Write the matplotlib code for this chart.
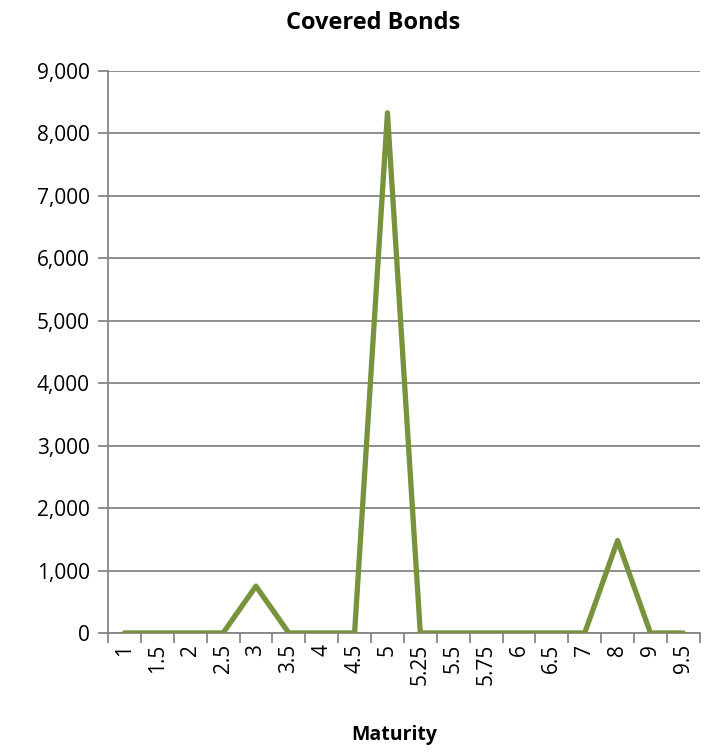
import matplotlib
matplotlib.use("Agg")
import matplotlib.pyplot as plt
import numpy as np
from matplotlib.ticker import FuncFormatter, FixedLocator

plt.rcParams['font.family'] = ['Open Sans', 'DejaVu Sans']

maturity = ['1', '1.5', '2', '2.5', '3', '3.5', '4', '4.5', '5', '5.25',
            '5.5', '5.75', '6', '6.5', '7', '8', '9', '9.5']
amount = [0, 0, 0, 0, 750, 0, 0, 0, 8330, 0, 0, 0, 0, 0, 0, 1480, 0, 0]

grid_col = '#868686'
line_col = '#77933C'

fig = plt.figure(figsize=(7.04, 7.55), dpi=100)
ax = fig.add_axes([0.1534, 0.1616, 0.8406, 0.7444])

x = np.arange(len(maturity))
ax.plot(x, amount, color=line_col, lw=3.8, solid_capstyle='round', solid_joinstyle='round', zorder=3)

ax.set_xlim(-0.5, len(maturity) - 0.5)
ax.set_ylim(0, 9000)
ax.set_yticks(np.arange(0, 9001, 1000))
ax.yaxis.set_major_formatter(FuncFormatter(lambda v, p: f'{int(v):,}'))
ax.grid(axis='y', color=grid_col, lw=1.3, zorder=0)

# category labels at centres, tick marks on the boundaries
ax.set_xticks(x)
ax.set_xticklabels(maturity, rotation=90, fontsize=15)
ax.tick_params(axis='x', which='major', length=0, pad=8)
ax.xaxis.set_minor_locator(FixedLocator(np.arange(-0.5, len(maturity), 1)))
ax.tick_params(axis='x', which='minor', length=7, width=1.3, color=grid_col)
ax.tick_params(axis='y', length=7, width=1.3, color=grid_col, labelsize=15, pad=6)

for s in ['top', 'right']:
    ax.spines[s].set_visible(False)
for s in ['left', 'bottom']:
    ax.spines[s].set_color(grid_col)
    ax.spines[s].set_linewidth(1.3)

fig.text(0.53, 0.969, 'Covered Bonds', ha='center', va='center', fontsize=17, fontweight='bold')
fig.text(0.56, 0.027, 'Maturity', ha='center', va='center', fontsize=14, fontweight='bold')

fig.savefig('out.png', dpi=100)
